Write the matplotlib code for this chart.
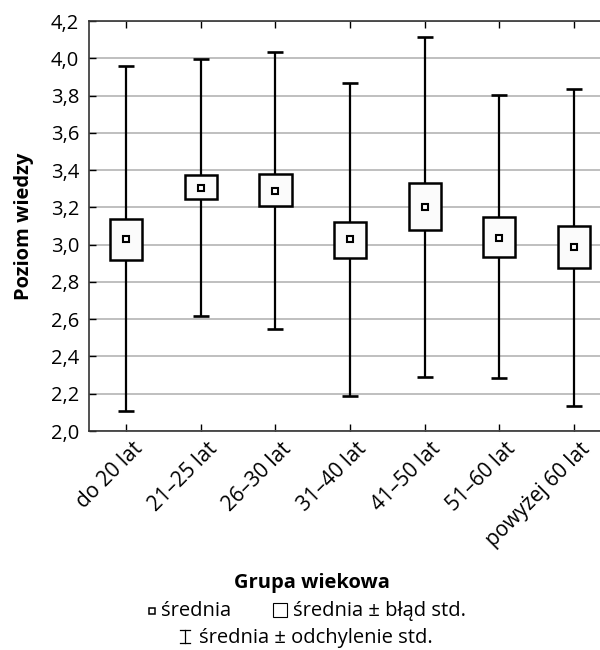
import matplotlib.pyplot as plt
from matplotlib.lines import Line2D
from matplotlib.transforms import ScaledTranslation
import numpy as np

# data
groups = ['do 20 lat', '21–25 lat', '26–30 lat', '31–40 lat',
          '41–50 lat', '51–60 lat', 'powyżej 60 lat']
means = [3.03, 3.305, 3.29, 3.028, 3.204, 3.037, 2.99]
se_low = [2.92, 3.243, 3.207, 2.93, 3.077, 2.935, 2.876]
se_high = [3.137, 3.374, 3.379, 3.123, 3.329, 3.148, 3.098]
sd_low = [2.107, 2.617, 2.546, 2.19, 2.291, 2.283, 2.136]
sd_high = [3.958, 3.996, 4.034, 3.869, 4.112, 3.803, 3.833]
yticks = [2.0, 2.2, 2.4, 2.6, 2.8, 3.0, 3.2, 3.4, 3.6, 3.8, 4.0, 4.2]

plt.rcParams['font.family'] = ['Open Sans', 'DejaVu Sans']
FS = 14.5

fig = plt.figure(figsize=(6, 6.5), dpi=100)
ax = fig.add_axes([89 / 600, 1 - 431 / 650, 1 - 89 / 600, 410 / 650])

x = np.arange(len(groups))
means = np.array(means)
lo = means - np.array(sd_low)
hi = np.array(sd_high) - means

# whiskers (mean +/- sd)
ax.errorbar(x, means, yerr=[lo, hi], fmt='none', ecolor='black',
            elinewidth=1.6, capsize=5.5, capthick=1.9, zorder=3)
# boxes (mean +/- se)
ax.bar(x, np.array(se_high) - np.array(se_low), bottom=se_low, width=0.43,
       color='#fbfbfb', edgecolor='black', linewidth=1.8, zorder=4)
# mean markers
ax.plot(x, means, 's', ms=5, mfc='white', mec='black', mew=1.5, zorder=5)

ax.set_xlim(-0.5, 6.35)
ax.set_ylim(2.0, 4.2)
ax.set_yticks(yticks)
ax.set_yticklabels([f'{v:.1f}'.replace('.', ',') for v in yticks])
ax.set_xticks(x)
ax.set_xticklabels([])
# rotated category labels, placed a bit right of each tick like the reference
offset = ScaledTranslation(17 / 100, -19 / 100, fig.dpi_scale_trans)
for i, g in enumerate(groups):
    ax.text(i, 0, g, transform=ax.get_xaxis_transform() + offset,
            rotation=45, ha='right', va='baseline', rotation_mode='anchor',
            fontsize=FS + 0.5)

ax.yaxis.grid(True, color='#b4b4b4', linewidth=1.2, zorder=0)
ax.set_axisbelow(True)

ax.tick_params(axis='both', direction='in', labelsize=FS, width=1, length=5)
ax.tick_params(axis='x', top=True)
ax.tick_params(axis='y', pad=7)
ax.spines['right'].set_visible(False)
for s in ['left', 'top', 'bottom']:
    ax.spines[s].set_linewidth(1.2)
    ax.spines[s].set_color('#333333')

ax.set_ylabel('Poziom wiedzy', fontsize=FS, fontweight='bold', labelpad=12)

# custom legend below the chart
def fx(px):
    return px / 600

def fy(py):
    return 1 - py / 650

fig.text(fx(312), fy(588), 'Grupa wiekowa', ha='center', va='baseline',
         fontsize=FS, fontweight='bold')

fig.add_artist(Line2D([fx(152)], [fy(611)], marker='s', ms=4.5, mfc='white',
                      mec='black', mew=1.1, ls='none'))
fig.text(fx(161), fy(616), 'średnia', ha='left', va='baseline', fontsize=FS)
fig.add_artist(Line2D([fx(280)], [fy(610)], marker='s', ms=9.5, mfc='white',
                      mec='black', mew=0.8, ls='none'))
fig.text(fx(293), fy(616), 'średnia ± błąd std.', ha='left', va='baseline',
         fontsize=FS)

# I-beam symbol
cx, top, bot, half = 185, 630, 643, 5
fig.add_artist(Line2D([fx(cx), fx(cx)], [fy(top), fy(bot)], color='black', lw=0.9))
fig.add_artist(Line2D([fx(cx - half), fx(cx + half)], [fy(top), fy(top)],
                      color='black', lw=0.9))
fig.add_artist(Line2D([fx(cx - half), fx(cx + half)], [fy(bot), fy(bot)],
                      color='black', lw=0.9))
fig.text(fx(199), fy(643), 'średnia ± odchylenie std.', ha='left', va='baseline',
         fontsize=FS)

fig.savefig('out.png', dpi=100)
